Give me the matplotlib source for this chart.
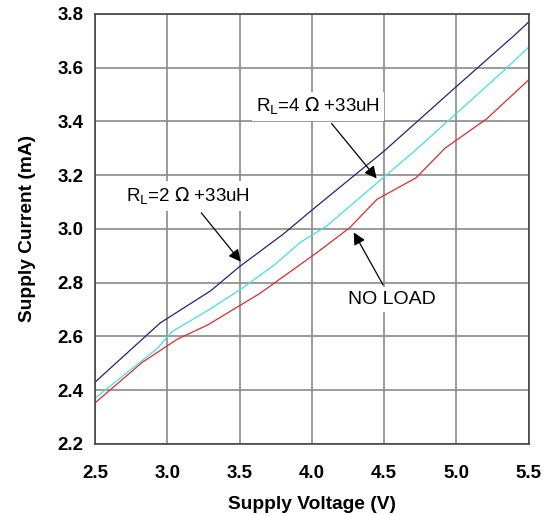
"""Supply current vs supply voltage"""
import matplotlib
matplotlib.use('Agg')
import matplotlib.pyplot as plt

plt.rcParams['font.family'] = ['Liberation Sans', 'DejaVu Sans']

# RL=2 ohm + 33uH
v_2ohm = [2.5, 2.95, 3.3, 3.5, 3.8, 4.0, 4.5, 5.0, 5.4, 5.5]
i_2ohm = [2.43, 2.65, 2.77, 2.86, 2.98, 3.07, 3.29, 3.53, 3.72, 3.77]
# RL=4 ohm + 33uH
v_4ohm = [2.5, 2.93, 3.03, 3.29, 3.52, 3.74, 3.92, 4.10, 4.47, 4.71, 5.0, 5.35, 5.5]
i_4ohm = [2.37, 2.555, 2.617, 2.70, 2.78, 2.866, 2.95, 3.01, 3.18, 3.29, 3.43, 3.60, 3.677]
# no load
v_noload = [2.5, 2.83, 3.07, 3.28, 3.64, 4.04, 4.26, 4.45, 4.72, 4.92, 5.21, 5.5]
i_noload = [2.353, 2.505, 2.59, 2.643, 2.76, 2.914, 3.004, 3.11, 3.19, 3.30, 3.41, 3.555]

xticks = [2.5, 3.0, 3.5, 4.0, 4.5, 5.0, 5.5]
yticks = [2.2, 2.4, 2.6, 2.8, 3.0, 3.2, 3.4, 3.6, 3.8]

fig = plt.figure(figsize=(5.56, 5.15), dpi=100)
ax = fig.add_axes([0.171, 0.138, 0.78, 0.835])

ax.plot(v_2ohm, i_2ohm, color='#23237e', lw=0.9)
ax.plot(v_4ohm, i_4ohm, color='#3fe3e3', lw=0.9)
ax.plot(v_noload, i_noload, color='#e8282c', lw=0.9)

ax.set_xlim(2.5, 5.5)
ax.set_ylim(2.2, 3.8)
ax.set_xticks(xticks)
ax.set_yticks(yticks)
ax.set_xticklabels(['%.1f' % t for t in xticks], fontweight='bold', fontsize=13.5)
ax.set_yticklabels(['%.1f' % t for t in yticks], fontweight='bold', fontsize=13.5)
ax.tick_params(axis='x', length=0, pad=15)
ax.tick_params(axis='y', length=0, pad=8.5)
ax.grid(True, color='#8a8a8a', lw=1.2)
for s in ax.spines.values():
    s.set_color('#444444')
    s.set_linewidth(1.2)

ax.set_xlabel('Supply Voltage (V)', fontweight='bold', fontsize=13.8, labelpad=10)
ax.set_ylabel('Supply Current (mA)', fontweight='bold', fontsize=13.8, labelpad=15)

box = dict(facecolor='white', edgecolor='none', pad=3)
arrow = dict(arrowstyle='-|>', color='black', lw=0.9, mutation_scale=18)
ax.annotate(r'R$_{\mathrm{L}}$=4 $\Omega$ +33uH', xy=(4.46, 3.18), xytext=(4.04, 3.455),
            ha='center', va='center', fontsize=13.5, bbox=box, arrowprops=arrow)
ax.annotate(r'R$_{\mathrm{L}}$=2 $\Omega$ +33uH', xy=(3.52, 2.87), xytext=(3.14, 3.123),
            ha='center', va='center', fontsize=13.5, bbox=box, arrowprops=arrow)
ax.annotate('NO LOAD', xy=(4.28, 2.996), xytext=(4.55, 2.736),
            ha='center', va='center', fontsize=14, bbox=box, arrowprops=arrow)

fig.savefig('out.png', dpi=100)
